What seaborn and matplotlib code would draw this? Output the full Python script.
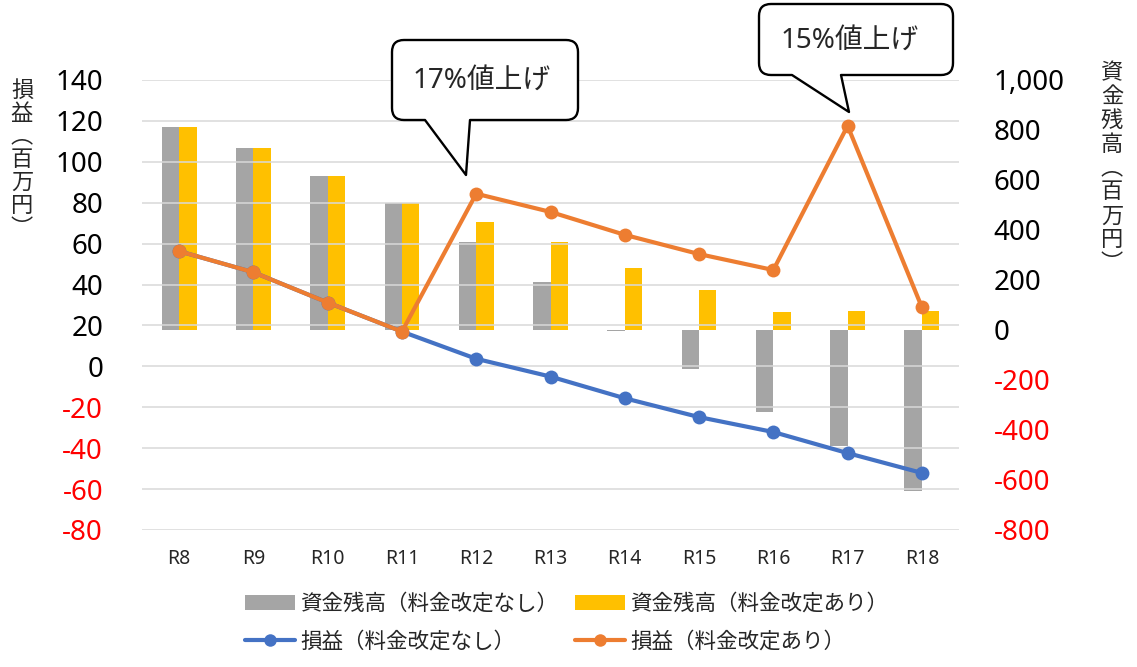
import numpy as np
import pandas as pd
import matplotlib
matplotlib.use("Agg")
import matplotlib.pyplot as plt
import seaborn as sns
from matplotlib.path import Path
from matplotlib.patches import PathPatch, Patch
from matplotlib.lines import Line2D

# ---------------- data ----------------
categories = ["R8", "R9", "R10", "R11", "R12", "R13", "R14", "R15", "R16", "R17", "R18"]
balance_no_revision = [813, 729, 616, 507, 351, 192, -4, -156, -328, -465, -644]
balance_with_revision = [813, 729, 616, 507, 431, 353, 247, 160, 74, 76, 77]
profit_no_revision = [56.3, 46.0, 31.2, 17.0, 3.7, -5.0, -15.6, -24.8, -32.1, -42.4, -52.1]
profit_with_revision = [56.3, 46.0, 31.2, 17.0, 84.4, 75.5, 64.3, 54.9, 47.1, 117.6, 28.9]
balance_series = ["資金残高（料金改定なし）", "資金残高（料金改定あり）"]
profit_series = ["損益（料金改定なし）", "損益（料金改定あり）"]
left_ticks = [-80, -60, -40, -20, 0, 20, 40, 60, 80, 100, 120, 140]
right_ticks = [-800, -600, -400, -200, 0, 200, 400, 600, 800, 1000]
left_label = "損益(百万円)"
right_label = "資金残高(百万円)"
callout_texts = ["17%値上げ", "15%値上げ"]

# ---------------- style ----------------
sns.set_theme(style="white")
plt.rcParams["font.family"] = ["Noto Sans", "Noto Sans CJK JP", "DejaVu Sans"]

W, H = 1137, 667
fig = plt.figure(figsize=(W / 100, H / 100), dpi=100)
fig.patch.set_facecolor("white")

def fx(x):
    return x / W

def fy(y):
    return 1 - y / H

ax1 = fig.add_axes([fx(142), fy(530), (959 - 142) / W, 450 / H])
ax2 = ax1.twinx()

bar_colors = ["#A5A5A5", "#FFC000"]
line_colors = ["#4472C4", "#ED7D31"]

bal_df = pd.DataFrame({
    "cat": categories * 2,
    "value": balance_no_revision + balance_with_revision,
    "series": [balance_series[0]] * len(categories) + [balance_series[1]] * len(categories),
})
sns.barplot(data=bal_df, x="cat", y="value", hue="series", palette=bar_colors,
            width=0.47, gap=0, saturation=1, errorbar=None, legend=False,
            linewidth=0, ax=ax2)

prof_df = pd.DataFrame({
    "cat": categories * 2,
    "value": profit_no_revision + profit_with_revision,
    "series": [profit_series[0]] * len(categories) + [profit_series[1]] * len(categories),
})
sns.lineplot(data=prof_df, x="cat", y="value", hue="series", palette=line_colors,
             marker="o", markersize=10, markeredgewidth=0, linewidth=3,
             sort=False, legend=False, ax=ax1)

ax1.set_zorder(ax2.get_zorder() + 1)
ax1.patch.set_visible(False)

ax1.set_xlim(-0.5, len(categories) - 0.5)
ax1.set_ylim(left_ticks[0], left_ticks[-1])
ax2.set_ylim(right_ticks[0], right_ticks[-1])

ax1.set_yticks(left_ticks)
ax1.set_yticklabels([str(v) for v in left_ticks])
for lab, v in zip(ax1.get_yticklabels(), left_ticks):
    lab.set_color("#FF0000" if v < 0 else "black")
ax2.set_yticks(right_ticks)
ax2.set_yticklabels([f"{v:,}" for v in right_ticks])
for lab, v in zip(ax2.get_yticklabels(), right_ticks):
    lab.set_color("#FF0000" if v < 0 else "black")

ax1.set_xticks(range(len(categories)))
ax1.set_xticklabels(categories)

ax1.grid(axis="y", color="#D9D9D9", linewidth=1.1)
ax1.grid(axis="x", visible=False)
ax2.grid(False)
for a in (ax1, ax2):
    for s in a.spines.values():
        s.set_visible(False)
    a.set_xlabel("")
    a.set_ylabel("")
ax1.tick_params(axis="y", length=0, pad=28, labelsize=20)
ax2.tick_params(axis="y", length=0, pad=25, labelsize=20)
ax1.tick_params(axis="x", length=0, pad=14, labelsize=14)

# ---------------- vertical axis titles ----------------
vmap = {"(": "︵", ")": "︶"}
def vertical(s):
    return "\n".join(vmap.get(c, c) for c in s)

fig.text(fx(22), fy(159), vertical(left_label), ha="center", va="center",
         fontsize=16, linespacing=1.0, family="Noto Sans CJK JP")
fig.text(fx(1112), fy(168), vertical(right_label), ha="center", va="center",
         fontsize=16, linespacing=1.05, family="Noto Sans CJK JP")

# ---------------- callouts ----------------
def callout(box, base, tip, r=12):
    x0, y0, x1, y1 = box
    bl, br = base
    pts = [(x0 + r, y0), (x1 - r, y0), (x1, y0), (x1, y0 + r), (x1, y1 - r),
           (x1, y1), (x1 - r, y1), (br, y1), tip, (bl, y1), (x0 + r, y1),
           (x0, y1), (x0, y1 - r), (x0, y0 + r), (x0, y0), (x0 + r, y0), (x0 + r, y0)]
    codes = [Path.MOVETO, Path.LINETO, Path.CURVE3, Path.CURVE3, Path.LINETO,
             Path.CURVE3, Path.CURVE3, Path.LINETO, Path.LINETO, Path.LINETO, Path.LINETO,
             Path.CURVE3, Path.CURVE3, Path.LINETO, Path.CURVE3, Path.CURVE3, Path.CLOSEPOLY]
    verts = [(fx(x), fy(y)) for x, y in pts]
    patch = PathPatch(Path(verts, codes), facecolor="white", edgecolor="black",
                      linewidth=1.7, transform=fig.transFigure, zorder=10,
                      joinstyle="round")
    fig.add_artist(patch)

callout((392, 40, 578, 120), (425, 470), (466, 175))
callout((759, 4, 953, 75), (792, 841), (849, 112))
fig.text(fx(482), fy(81), callout_texts[0], ha="center", va="center", fontsize=20, zorder=11)
fig.text(fx(850), fy(41), callout_texts[1], ha="center", va="center", fontsize=20, zorder=11)

# ---------------- legend ----------------
handles = [
    Patch(facecolor=bar_colors[0], edgecolor="none"),
    Line2D([0], [0], color=line_colors[0], lw=3, marker="o", markersize=9, markeredgewidth=0),
    Patch(facecolor=bar_colors[1], edgecolor="none"),
    Line2D([0], [0], color=line_colors[1], lw=3, marker="o", markersize=9, markeredgewidth=0),
]
labels = [balance_series[0], profit_series[0], balance_series[1], profit_series[1]]
fig.legend(handles, labels, loc="upper left", bbox_to_anchor=(fx(245), fy(594)),
           ncol=2, frameon=False, fontsize=15.5, handlelength=2.3, handletextpad=0.25,
           columnspacing=0.8, labelspacing=0.75, borderpad=0, borderaxespad=0)

fig.savefig("out.png", dpi=100, facecolor="white")
